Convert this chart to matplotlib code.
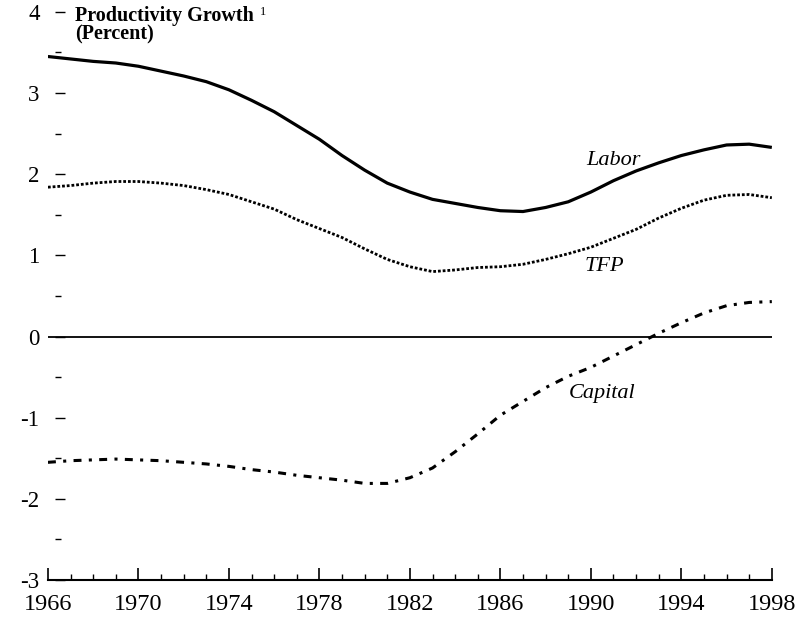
import matplotlib
matplotlib.use('Agg')
import matplotlib.pyplot as plt
from matplotlib.ticker import MultipleLocator, FixedLocator

plt.rcParams['font.family'] = ['Liberation Serif', 'DejaVu Serif']
plt.rcParams['axes.unicode_minus'] = False

# yearly values (percent)
years = list(range(1966, 1999))
labor = [3.45, 3.42, 3.39, 3.37, 3.33, 3.27, 3.21, 3.14, 3.04, 2.91, 2.77,
         2.60, 2.43, 2.23, 2.05, 1.89, 1.78, 1.69, 1.64, 1.59, 1.55, 1.54,
         1.59, 1.66, 1.78, 1.92, 2.04, 2.14, 2.23, 2.30, 2.36, 2.37, 2.33]
tfp = [1.84, 1.86, 1.89, 1.91, 1.91, 1.89, 1.86, 1.81, 1.75, 1.66, 1.57,
       1.44, 1.33, 1.22, 1.08, 0.95, 0.86, 0.80, 0.82, 0.85, 0.86, 0.89,
       0.95, 1.02, 1.10, 1.21, 1.32, 1.46, 1.58, 1.68, 1.74, 1.75, 1.71]
capital = [-1.55, -1.53, -1.52, -1.51, -1.52, -1.53, -1.55, -1.57, -1.60,
           -1.64, -1.67, -1.71, -1.74, -1.77, -1.81, -1.81, -1.74, -1.62,
           -1.42, -1.20, -0.97, -0.80, -0.63, -0.49, -0.38, -0.24, -0.10,
           0.04, 0.17, 0.29, 0.38, 0.42, 0.43]
year_ticks = list(range(1966, 1999, 4))

fig = plt.figure(figsize=(7.99, 6.25), dpi=100)
ax = fig.add_axes([0.060, 0.072, 0.906, 0.909])

ax.axhline(0, color='black', lw=1.3)
ax.plot(years, labor, color='black', lw=2.3, solid_capstyle='butt')
ax.plot(years, tfp, color='black', lw=2.0, linestyle=(0, (1, 0.7)))
ax.plot(years, capital, color='black', lw=2.2, linestyle=(0, (2.6, 2.4, 1, 2.4)))

ax.text(1991.0, 2.17, 'Labor', style='italic', fontsize=16, ha='center', va='center')
ax.text(1990.6, 0.86, 'TFP', style='italic', fontsize=16, ha='center', va='center')
ax.text(1990.5, -0.70, 'Capital', style='italic', fontsize=16, ha='center', va='center')

ax.set_xlim(1966, 1998)
ax.set_ylim(-3, 4)
ax.xaxis.set_major_locator(FixedLocator(year_ticks))
ax.xaxis.set_minor_locator(MultipleLocator(1))
ax.yaxis.set_major_locator(MultipleLocator(1))
ax.yaxis.set_minor_locator(MultipleLocator(0.5))

for s in ['top', 'right', 'left']:
    ax.spines[s].set_visible(False)
ax.spines['left'].set_position(('outward', -5))
ax.spines['bottom'].set_linewidth(1.5)

ax.tick_params(axis='x', which='major', direction='in', length=8.5, width=1.2,
               pad=10, labelsize=17.5)
ax.tick_params(axis='x', which='minor', direction='in', length=4, width=1.0)
ax.tick_params(axis='y', which='major', direction='in', length=7, width=1.0,
               pad=11, labelsize=16.5)
ax.tick_params(axis='y', which='minor', direction='in', length=4, width=1.0)

# title block, two tight lines plus footnote mark
fig.text(0.0939, 0.9905, 'Productivity Growth\n(Percent)', fontsize=14.5,
         fontweight='bold', va='top', ha='left', linespacing=0.92)
fig.text(0.3255, 0.976, '1', fontsize=9, va='baseline')

fig.savefig('out.png', dpi=100)
